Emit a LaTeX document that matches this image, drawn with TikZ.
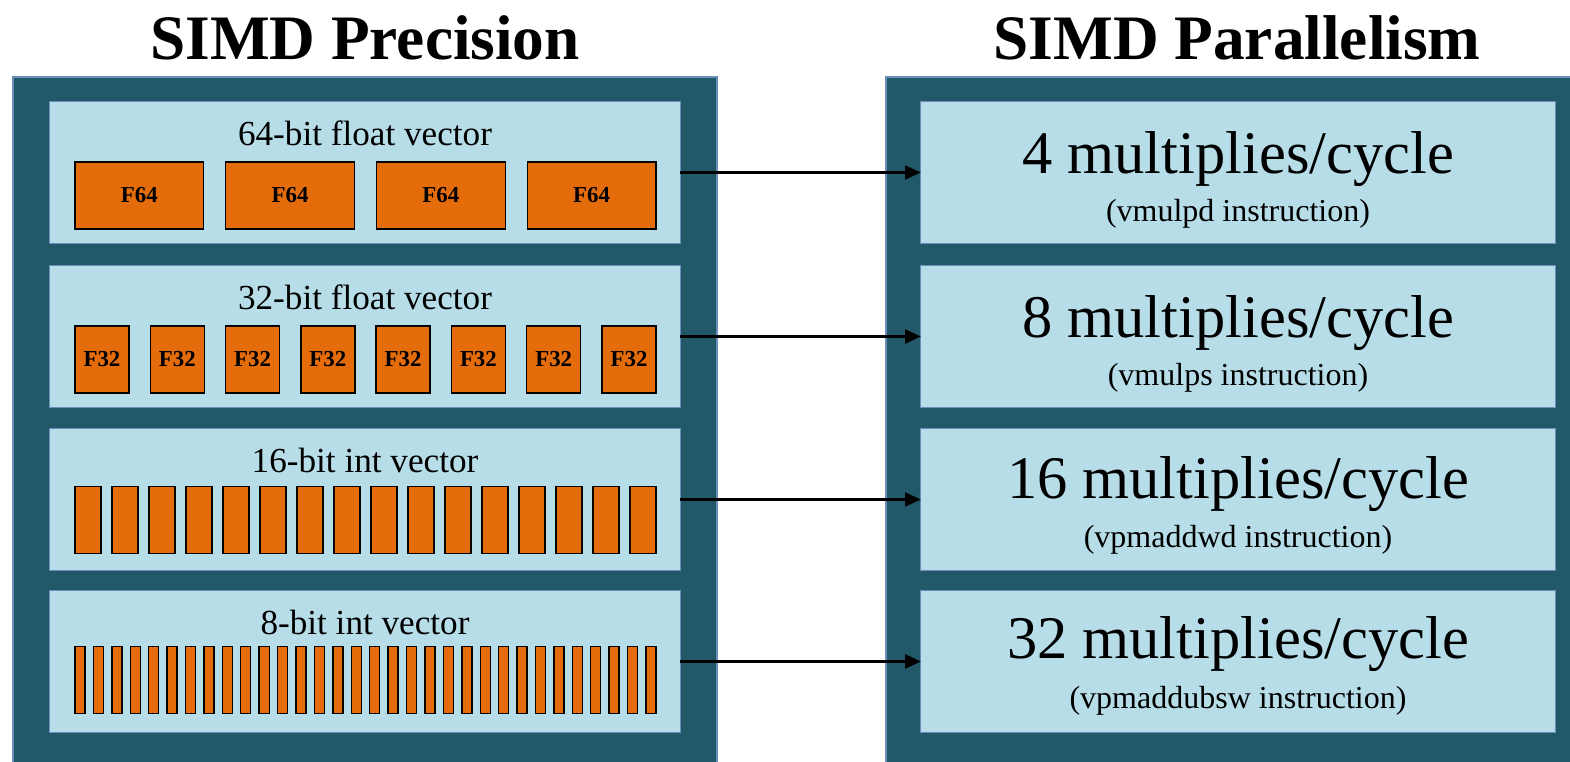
\documentclass[tikz,border=0pt]{standalone}
\usepackage{fontspec}
\setmainfont{Liberation Serif}
\usetikzlibrary{arrows.meta}

\definecolor{panelteal}{HTML}{215968}
\definecolor{rowblue}{HTML}{B7DEE8}
\definecolor{edgeblue}{HTML}{6C8EBF}
\definecolor{laneorange}{HTML}{E46C0A}

\begin{document}
\begin{tikzpicture}[x=0.01cm,y=-0.01cm,
  panel/.style={fill=panelteal,draw=edgeblue,line width=0.3pt},
  rowbox/.style={draw=edgeblue,fill=rowblue,line width=0.3pt,minimum height=1.42cm,inner sep=0pt,outer sep=0pt},
  lane/.style={draw=black,fill=laneorange,line width=0.4pt,minimum height=0.67cm,inner sep=0pt,outer sep=0pt,
    font=\bfseries\fontsize{6.5}{7}\selectfont},
  heading/.style={font=\bfseries\fontsize{18}{20}\selectfont},
  link/.style={-{Triangle[length=4.5pt,width=4pt]},line width=0.6pt}]
\useasboundingbox (0,0) rectangle (1570,762);

% titles
\node[heading] (tprec) at (365,38) {SIMD Precision};
\node[heading] (tpar) at (1237,38) {SIMD Parallelism};

% the two dark panels
\draw[panel] (13,77) rectangle (717,770);
\draw[panel] (886,77) rectangle (1575,770);

% left: vector rows
\node[rowbox,minimum width=6.3cm] (v1) at (365,172.5) {};
\node[rowbox,minimum width=6.3cm] (v2) at (365,336.5) {};
\node[rowbox,minimum width=6.3cm] (v3) at (365,499.5) {};
\node[rowbox,minimum width=6.3cm] (v4) at (365,661.5) {};

\node[font=\fontsize{10}{12}\selectfont] (n1) at (365,133) {64-bit float vector};
\node[font=\fontsize{10}{12}\selectfont] (n2) at (365,297) {32-bit float vector};
\node[font=\fontsize{10}{12}\selectfont] (n3) at (365,460) {16-bit int vector};
\node[font=\fontsize{10}{12}\selectfont] (n4) at (365,622) {8-bit int vector};

% lanes in each vector
\foreach \n/\g/\yc/\lab [count=\r] in {4/22/195.5/F64, 8/21.3/359.5/F32, 16/11/520/{}, 32/8.4/680/{}}{
  \pgfmathsetmacro\w{(581-(\n-1)*\g)/\n}
  \pgfmathsetmacro\wcm{\w*0.01}
  \foreach \i in {1,...,\n}{
    \pgfmathsetmacro\xc{75+(\i-1)*(\w+\g)+\w/2}
    \node[lane,minimum width=\wcm cm] (c\r-\i) at (\xc,\yc) {\lab};
  }
}

% right: throughput rows
\node[rowbox,minimum width=6.34cm] (m1) at (1238,172.5) {};
\node[rowbox,minimum width=6.34cm] (m2) at (1238,336.5) {};
\node[rowbox,minimum width=6.34cm] (m3) at (1238,499.5) {};
\node[rowbox,minimum width=6.34cm] (m4) at (1238,661.5) {};

\node[font=\fontsize{17.2}{19}\selectfont] (b1) at (1238,159) {4 multiplies/cycle};
\node[font=\fontsize{9.1}{11}\selectfont] (s1) at (1238,214) {(vmulpd instruction)};
\node[font=\fontsize{17.2}{19}\selectfont] (b2) at (1238,323) {8 multiplies/cycle};
\node[font=\fontsize{9.1}{11}\selectfont] (s2) at (1238,378) {(vmulps instruction)};
\node[font=\fontsize{17.2}{19}\selectfont] (b3) at (1238,484) {16 multiplies/cycle};
\node[font=\fontsize{9.1}{11}\selectfont] (s3) at (1238,540) {(vpmaddwd instruction)};
\node[font=\fontsize{17.2}{19}\selectfont] (b4) at (1238,644) {32 multiplies/cycle};
\node[font=\fontsize{9.1}{11}\selectfont] (s4) at (1238,701) {(vpmaddubsw instruction)};

% arrows
\draw[link] (v1.east) -- (m1.west);
\draw[link] (v2.east) -- (m2.west);
\draw[link] (v3.east) -- (m3.west);
\draw[link] (v4.east) -- (m4.west);
\end{tikzpicture}
\end{document}
